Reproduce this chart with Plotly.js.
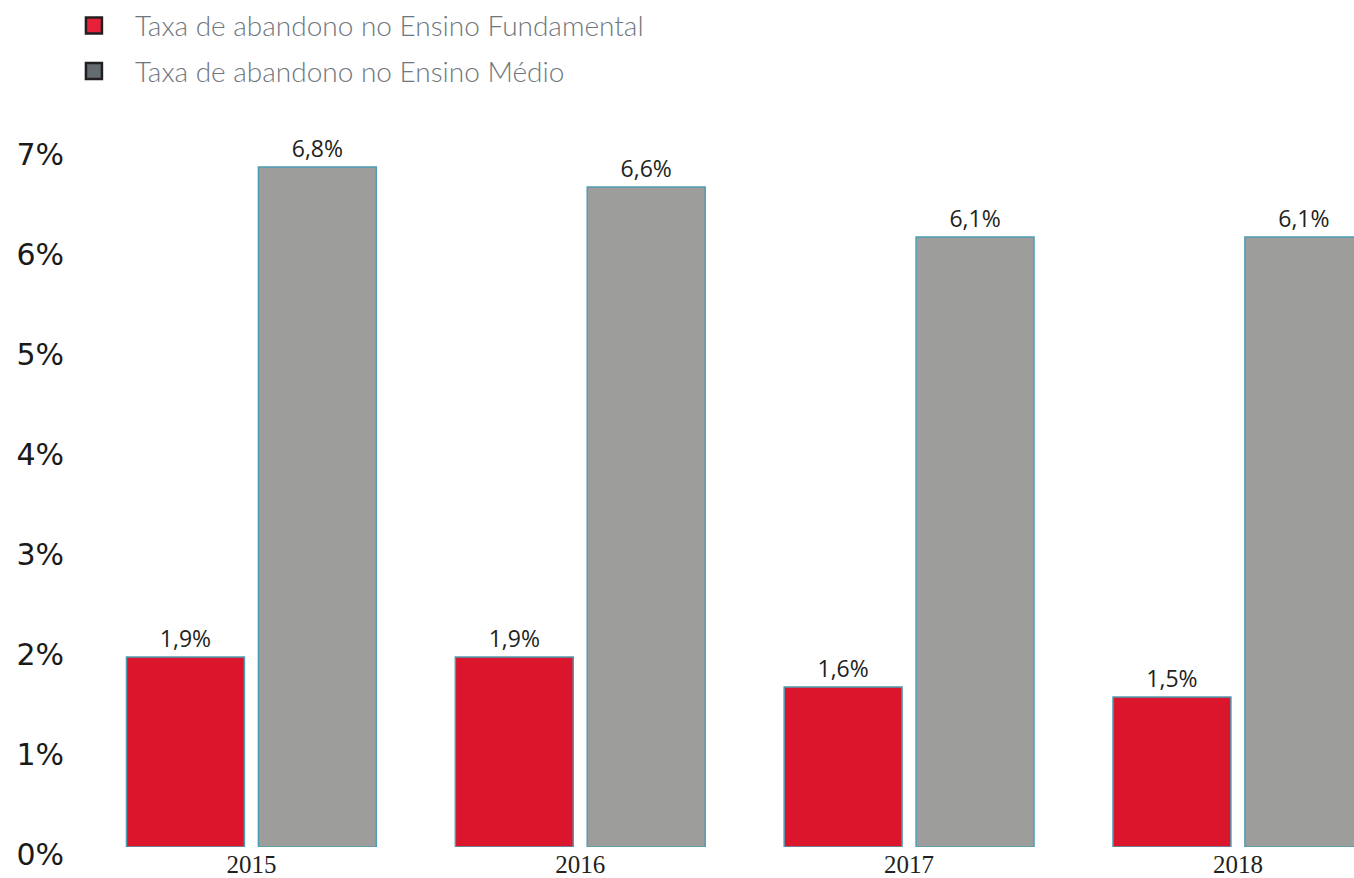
<!DOCTYPE html>
<html>
<head>
<meta charset="utf-8">
<script src="https://cdn.plot.ly/plotly-3.0.1.min.js"></script>
<style>html,body{margin:0;padding:0;background:#fff;}#chart{width:1354px;height:878px;}</style>
</head>
<body>
<div id="chart"></div>
<script>
var years = ['2015', '2016', '2017', '2018'];
var fundamental = [1.9, 1.9, 1.6, 1.5];
var medio = [6.8, 6.6, 6.1, 6.1];
var seriesNames = ['Taxa de abandono no Ensino Fundamental', 'Taxa de abandono no Ensino Médio'];
var yTicks = [0, 1, 2, 3, 4, 5, 6, 7];
var yTickText = yTicks.map(function (v) { return v + '%'; });

var labelFont = {family: 'Open Sans, sans-serif', size: 23, color: '#231f20'};
var barLine = {color: '#4f9db4', width: 1.5};

var traces = [
  {type: 'bar', x: years, y: fundamental, name: seriesNames[0], showlegend: false,
   marker: {color: '#da152c', line: barLine},
   text: fundamental, texttemplate: '%{y:.1f}%', textposition: 'outside', textfont: labelFont,
   cliponaxis: false, hoverinfo: 'none'},
  {type: 'bar', x: years, y: medio, name: seriesNames[1], showlegend: false,
   marker: {color: '#9d9d9b', line: barLine},
   text: medio, texttemplate: '%{y:.1f}%', textposition: 'outside', textfont: labelFont,
   cliponaxis: false, hoverinfo: 'none'},
  {type: 'scatter', mode: 'markers', x: [null], y: [null], name: seriesNames[0], legendgroup: 'a',
   marker: {symbol: 'square', size: 16, color: '#e8213a', line: {color: '#231f20', width: 2.5}}},
  {type: 'scatter', mode: 'markers', x: [null], y: [null], name: seriesNames[1], legendgroup: 'b',
   marker: {symbol: 'square', size: 16, color: '#646b71', line: {color: '#231f20', width: 2.5}}}
];

var layout = {
  width: 1354, height: 878,
  margin: {l: 87, r: 0, t: 110, b: 31, autoexpand: false},
  paper_bgcolor: '#fff', plot_bgcolor: '#fff',
  separators: ',.',
  barmode: 'group', bargap: 0.1976, bargroupgap: 0.106,
  showlegend: true,
  legend: {
    xref: 'container', yref: 'container', x: 0.0391, y: 0.999, xanchor: 'left', yanchor: 'top',
    font: {family: 'Lato, sans-serif', size: 28, color: '#6f777e', weight: 300},
    tracegroupgap: 6, itemwidth: 72, bgcolor: 'rgba(0,0,0,0)'
  },
  xaxis: {
    type: 'category', range: [-0.5, 3.353], showgrid: false, zeroline: false, showline: false,
    ticks: '', ticklabelstandoff: 0,
    tickfont: {family: 'Liberation Serif, serif', size: 25, color: '#231f20'}
  },
  yaxis: {
    range: [0, 7.37], tickmode: 'array', tickvals: yTicks, ticktext: yTickText,
    showgrid: false, zeroline: false,
    showline: false, ticks: '', ticklabelstandoff: 22, ticklabelshift: 7,
    tickfont: {family: 'DejaVu Sans, sans-serif', size: 30, color: '#1a1a1a'}
  }
};

Plotly.newPlot('chart', traces, layout, {staticPlot: true, displayModeBar: false});
</script>
</body>
</html>
